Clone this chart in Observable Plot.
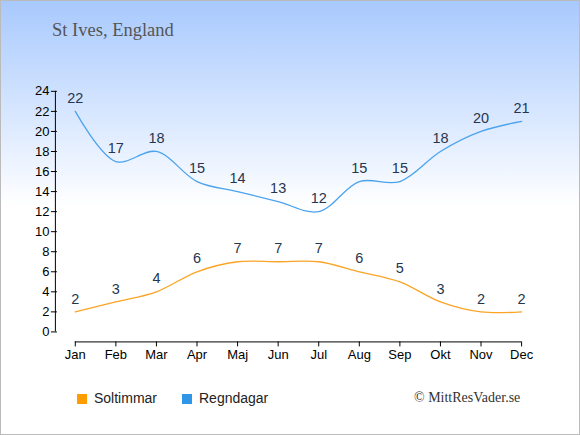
<!DOCTYPE html>
<html><head><meta charset="utf-8">
<script src="https://cdn.jsdelivr.net/npm/d3@7"></script>
<script src="https://cdn.jsdelivr.net/npm/@observablehq/plot@0.6"></script>
<style>
body{margin:0;}
#wrap{position:relative;width:580px;height:435px;box-sizing:border-box;border:1px solid #bbb;
background:linear-gradient(to bottom,#a8c9fd 0px,#d6e6ff 110px,#ffffff 205px,#ffffff 435px);overflow:hidden;}
#title{position:absolute;left:51px;top:19px;font-family:"Liberation Serif","Times New Roman",serif;font-size:18.5px;color:#555;}
#chart{position:absolute;left:-1px;top:-1px;}
#legend{position:absolute;left:0;top:389px;width:580px;font-family:"Liberation Sans",Arial,sans-serif;font-size:14px;color:#222;}
.item{position:absolute;top:0;white-space:nowrap;}
.sw{display:inline-block;width:10px;height:10px;vertical-align:-1px;margin-right:7px;}
#copy{position:absolute;left:413px;top:389px;font-family:"Liberation Serif","Times New Roman",serif;font-size:14px;color:#333;}
</style></head>
<body>
<div id="wrap">
<div id="title">St Ives, England</div>
<div id="chart"></div>
<div id="legend">
<span class="item" style="left:76px"><span class="sw" style="background:#ff9c00"></span>Soltimmar</span>
<span class="item" style="left:181px"><span class="sw" style="background:#3096e8"></span>Regndagar</span>
</div>
<div id="copy">© MittResVader.se</div>
</div>
<script>
const months = ["Jan","Feb","Mar","Apr","Maj","Jun","Jul","Aug","Sep","Okt","Nov","Dec"];
const soltimmar = [2,3,4,6,7,7,7,6,5,3,2,2];
const regndagar = [22,17,18,15,14,13,12,15,15,18,20,21];
const yTicks = [0,2,4,6,8,10,12,14,16,18,20,22,24];

const sun = months.map((m,i)=>({i, v: soltimmar[i]}));
const rain = months.map((m,i)=>({i, v: regndagar[i]}));

const chart = Plot.plot({
  width: 580, height: 370,
  marginLeft: 55, marginRight: 58, marginTop: 91, marginBottom: 28,
  insetBottom: 10,
  style: {background: "transparent", fontFamily: "'Liberation Sans', Arial, sans-serif"},
  x: {type: "linear", domain: [-0.49, 11]},
  y: {domain: [0, 24]},
  marks: [
    Plot.ruleX([{x: -0.49, a: 0, b: 24}], {x: "x", y1: "a", y2: "b", stroke: "#000", strokeWidth: 1}),
    Plot.ruleY([{y: 0, a: 0, b: 11}], {y: "y", x1: "a", x2: "b", dy: 10, stroke: "#000", strokeWidth: 1}),
    Plot.axisY({ticks: yTicks, tickSize: 6, dx: 2, tickPadding: 2, fontSize: 13, color: "#000", label: null, tickFormat: d => d}),
    Plot.axisX({ticks: d3.range(12), tickSize: 5, tickPadding: 3, fontSize: 13, color: "#000", label: null, tickFormat: i => months[i]}),
    Plot.line(rain, {x: "i", y: "v", curve: "catmull-rom", stroke: "#4ba3ee", strokeWidth: 1.3}),
    Plot.line(sun, {x: "i", y: "v", curve: "catmull-rom", stroke: "#fba426", strokeWidth: 1.3}),
    Plot.text(rain, {x: "i", y: "v", text: d => String(d.v), dy: -13, fontSize: 14.5, fill: "#26364f"}),
    Plot.text(sun, {x: "i", y: "v", text: d => String(d.v), dy: -13, fontSize: 14.5, fill: "#26364f"})
  ]
});
document.getElementById("chart").appendChild(chart);
</script>
</body></html>
